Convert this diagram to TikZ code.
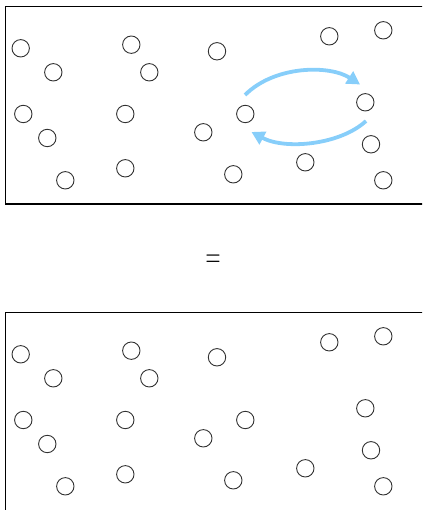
\documentclass[tikz,border=0pt]{standalone}
\usetikzlibrary{arrows.meta}
\definecolor{arrowblue}{RGB}{135,206,250}
\definecolor{ringgray}{RGB}{50,50,50}
\tikzset{
  panel/.style={draw=black, line width=1.3pt},
  particle/.style={circle, draw=ringgray, line width=0.9pt, minimum size=17.4pt, inner sep=0pt},
  swap/.style={draw=arrowblue, line width=3.8pt, -{Triangle[length=13pt,width=14pt]}},
}
\begin{document}
\begin{tikzpicture}[x=1pt,y=1pt]
\useasboundingbox (0,0) rectangle (422,510);
\clip (0,0) rectangle (422,510);
\draw[panel] (5.3,503.3) rectangle (440,306);
\draw[panel] (5.3,197.7) rectangle (440,-20);
\foreach \i/\px/\py in {1/20.7/461.7, 2/53.3/437.7, 3/23.3/396, 4/47.3/372, 5/65.3/329.7,
  6/131.3/465.3, 7/149.3/437.7, 8/125.3/396, 9/125.3/341.7, 10/217/458.7,
  11/245.3/396, 12/203.3/377.7, 13/233.3/335.7, 14/329.3/473.7, 15/383.3/479.7,
  16/365.3/407.7, 17/371/365.7, 18/305.3/347.7, 19/383.3/329.7}{
  \node[particle] (t\i) at (\px,\py) {};
  \node[particle] (b\i) at (\px,\py-306) {};
}
\coordinate (a1s) at (245,415);
\coordinate (a1e) at (360,425.5);
\coordinate (a2s) at (366,389);
\coordinate (a2e) at (251.5,378);
\draw[swap] (a1s) .. controls (275,445) and (330,445) .. (a1e);
\draw[swap] (a2s) .. controls (340,365) and (285,360) .. (a2e);
\node[font=\fontsize{22.7}{24}\selectfont, yscale=1.7, transform shape, inner sep=0pt] (eq) at (213,248.5) {$=$};
\end{tikzpicture}
\end{document}
